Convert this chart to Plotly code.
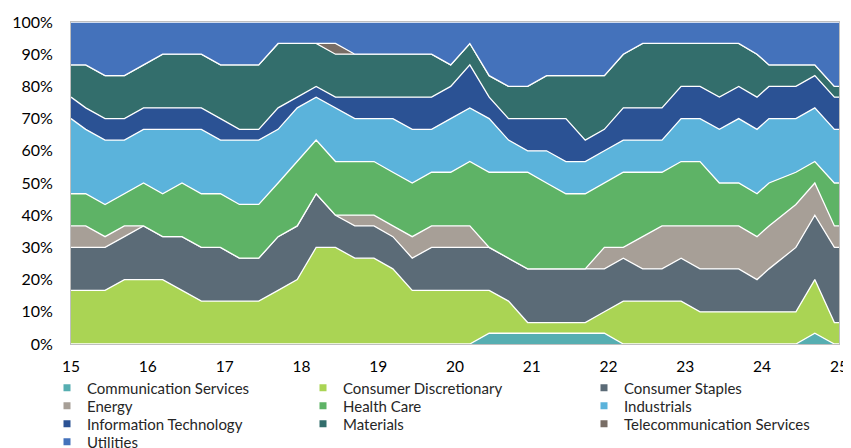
import plotly.graph_objects as go

dates = [
    "2015-01-01",
    "2015-03-12", "2015-06-12", "2015-09-12", "2015-12-12",
    "2016-03-12", "2016-06-12", "2016-09-12", "2016-12-12",
    "2017-03-12", "2017-06-12", "2017-09-12", "2017-12-12",
    "2018-03-12", "2018-06-12", "2018-09-12", "2018-12-12",
    "2019-03-12", "2019-06-12", "2019-09-12", "2019-12-12",
    "2020-03-12", "2020-06-12", "2020-09-12", "2020-12-12",
    "2021-03-12", "2021-06-12", "2021-09-12", "2021-12-12",
    "2022-03-12", "2022-06-12", "2022-09-12", "2022-12-12",
    "2023-03-12", "2023-06-12", "2023-09-12", "2023-12-08",
    "2024-02-03", "2024-06-10", "2024-09-08", "2024-12-10",
    "2025-01-01",
]

comm_services = [0,0,0,0,0,0,0,0,0,0, 0,0,0,0,0,0,0,0,0,0, 0,0,1,1,1,1,1,1,1,0, 0,0,0,0,0,0,0,0,0,1, 0,0]
cons_discr    = [5,5,5,6,6,6,5,4,4,4, 4,5,6,9,9,8,8,7,5,5, 5,5,4,3,1,1,1,1,2,4, 4,4,4,3,3,3,3,3,3,5, 2,2]
cons_staples  = [4,4,4,4,5,4,5,5,5,4, 4,5,5,5,3,3,3,3,3,4, 4,4,4,4,5,5,5,5,4,4, 3,3,4,4,4,4,3,4,6,6, 7,7]
energy        = [2,2,1,1,0,0,0,0,0,0, 0,0,0,0,0,1,1,1,2,2, 2,2,0,0,0,0,0,0,2,1, 3,4,3,4,4,4,4,4,4,3, 2,2]
health_care   = [3,3,3,3,4,4,5,5,5,5, 5,5,6,5,5,5,5,5,5,5, 5,6,7,8,9,8,7,7,6,7, 6,5,6,6,4,4,4,4,3,2, 4,4]
industrials   = [7,6,6,5,5,6,5,6,5,6, 6,5,5,4,5,4,4,5,5,4, 5,5,5,3,2,3,3,3,3,3, 3,3,4,4,5,6,6,6,5,5, 5,5]
info_tech     = [2,2,2,2,2,2,2,2,2,1, 1,2,1,1,1,2,2,2,3,3, 3,4,2,2,3,3,4,2,2,3, 3,3,3,3,3,3,3,3,3,3, 3,3]
materials     = [3,4,4,4,4,5,5,5,5,6, 6,6,5,4,4,4,4,4,4,4, 2,2,2,3,3,4,4,6,5,5, 6,6,4,4,5,4,4,2,2,1, 1,1]
telecom       = [0,0,0,0,0,0,0,0,0,0, 0,0,0,0,1,0,0,0,0,0, 0,0,0,0,0,0,0,0,0,0, 0,0,0,0,0,0,0,0,0,0, 0,0]
utilities     = [4,4,5,5,4,3,3,3,4,4, 4,2,2,2,2,3,3,3,3,3, 4,2,5,6,6,5,5,5,5,3, 2,2,2,2,2,2,3,4,4,4, 6,6]

sector_names = ["Communication Services", "Consumer Discretionary", "Consumer Staples",
                "Energy", "Health Care", "Industrials", "Information Technology",
                "Materials", "Telecommunication Services", "Utilities"]
sector_values = [comm_services, cons_discr, cons_staples, energy, health_care,
                 industrials, info_tech, materials, telecom, utilities]
colors = ["#56AEB1", "#AAD454", "#5B6B77", "#A79F97", "#5EB366",
          "#5BB3DB", "#2B5294", "#336E6C", "#786D65", "#4472BB"]

year_ticks = ["15", "16", "17", "18", "19", "20", "21", "22", "23", "24", "25"]
y_ticks = ["0%", "10%", "20%", "30%", "40%", "50%", "60%", "70%", "80%", "90%", "100%"]

FONT = "Lato"

# the page body adds an 8px margin, so the figure is laid out 8px up/left
OFF = 8
W, H = 851, 448
PL, PR, PT, PB = 71 - OFF, 839 - OFF, 22 - OFF, 344 - OFF

fig = go.Figure()
for name, vals, col in zip(sector_names, sector_values, colors):
    fig.add_trace(go.Scatter(
        x=dates, y=vals, name=name, mode="lines",
        stackgroup="one", groupnorm="percent",
        line=dict(color="white", width=1.3, shape="linear"),
        fillcolor=col, showlegend=False, hoverinfo="skip",
    ))

col_text_px = [87, 343, 624]          # page x where legend text starts
row_center_px = [388, 406, 424, 442]  # page y of legend rows

legend_layout = {}
for idx, (name, col) in enumerate(zip(sector_names, colors)):
    key = "legend" if idx == 0 else f"legend{idx + 1}"
    fig.add_trace(go.Scatter(
        x=[None], y=[None], mode="markers", name=name,
        marker=dict(symbol="square", size=7, color=col),
        legend=key, showlegend=True,
    ))
    r, c = divmod(idx, 3)
    lx = col_text_px[c] - 40 - OFF
    ly = row_center_px[r] - OFF
    legend_layout[key] = dict(
        x=(lx - PL) / (PR - PL),
        y=(PB - ly) / (PB - PT),
        xanchor="left", yanchor="middle", orientation="v", itemwidth=30,
        font=dict(family=FONT, size=15, color="#262626"),
        bgcolor="rgba(0,0,0,0)", borderwidth=0,
    )

fig.update_layout(
    width=W, height=H,
    margin=dict(l=PL, r=W - PR, t=PT, b=H - PB, autoexpand=False),
    paper_bgcolor="white", plot_bgcolor="white",
    font=dict(family=FONT, size=15, color="black"),
    xaxis=dict(
        type="date", range=["2015-01-01", "2025-01-01"],
        tickvals=[f"20{t}-01-01" for t in year_ticks], ticktext=year_ticks,
        showgrid=False, zeroline=False, showline=True, linecolor="#BFBFBF",
        linewidth=1, mirror=True, ticks="", ticklabelstandoff=8,
        ticklabeloverflow="allow", tickfont=dict(family=FONT, size=15.5),
    ),
    yaxis=dict(
        range=[0, 100], tickvals=list(range(0, 101, 10)), ticktext=y_ticks,
        showgrid=False, zeroline=False, showline=True, linecolor="#BFBFBF",
        linewidth=1, mirror=True, ticks="", ticklabelstandoff=14,
        tickfont=dict(family=FONT, size=16),
    ),
    **legend_layout,
)

fig.write_html("out.html")
